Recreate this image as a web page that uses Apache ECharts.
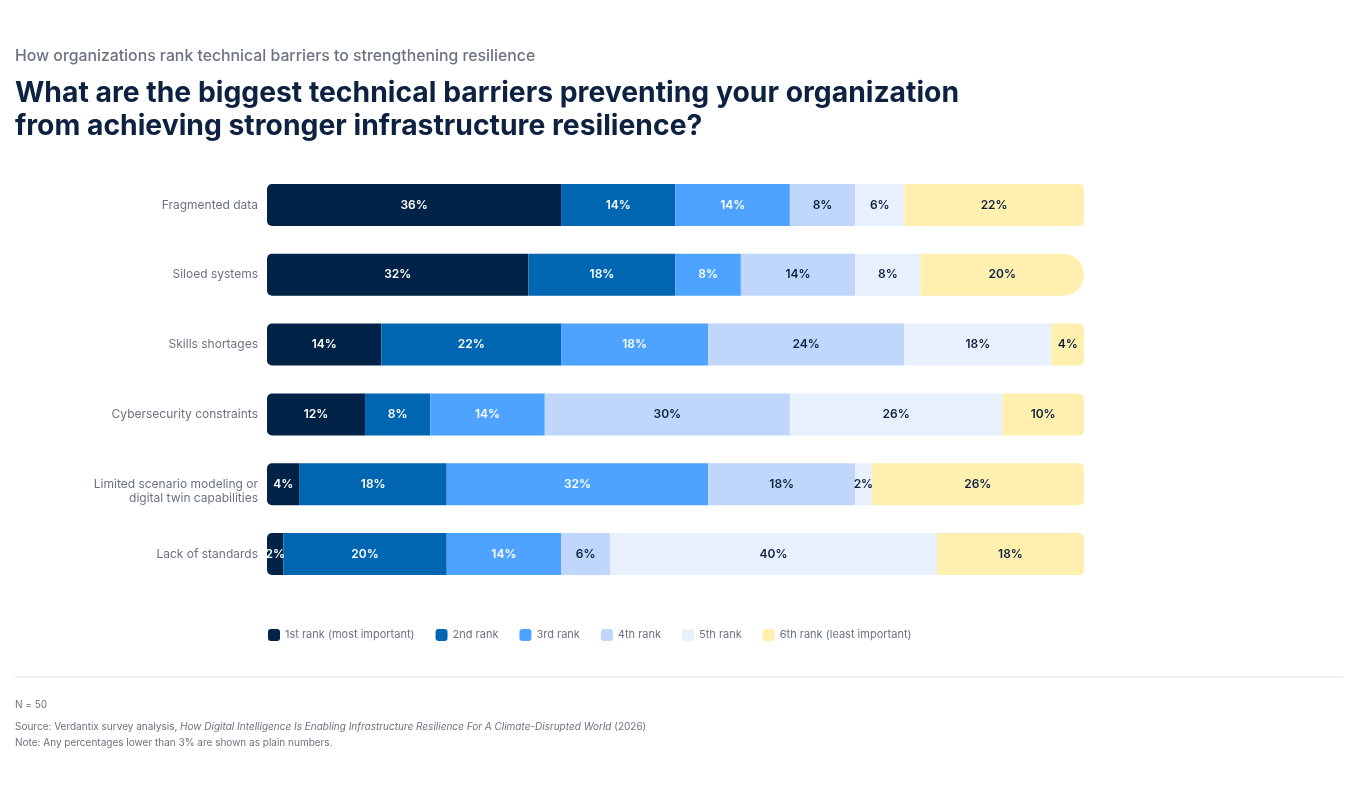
<!DOCTYPE html>
<html>
<head>
<meta charset="utf-8">
<script src="https://cdn.jsdelivr.net/npm/echarts@6/dist/echarts.min.js"></script>
<style>
html,body{margin:0;padding:0;background:#fff;}
#chart{width:1360px;height:800px;}
</style>
</head>
<body>
<div id="chart"></div>
<script>
const categories = [
  "Fragmented data",
  "Siloed systems",
  "Skills shortages",
  "Cybersecurity constraints",
  "Limited scenario modeling or\ndigital twin capabilities",
  "Lack of standards"
];
const seriesNames = [
  "1st rank (most important)",
  "2nd rank",
  "3rd rank",
  "4th rank",
  "5th rank",
  "6th rank (least important)"
];
const rank1 = [36, 32, 14, 12, 4, 2];
const rank2 = [14, 18, 22, 8, 18, 20];
const rank3 = [14, 8, 18, 14, 32, 14];
const rank4 = [8, 14, 24, 30, 18, 6];
const rank5 = [6, 8, 18, 26, 2, 40];
const rank6 = [22, 20, 4, 10, 26, 18];
const values = [rank1, rank2, rank3, rank4, rank5, rank6];
const colors = ["#002347", "#0066b2", "#4da3ff", "#c0d6fb", "#e8f0fd", "#fff0b0"];
const labelColors = ["#ffffff", "#ffffff", "#ffffff", "#0d2240", "#0d2240", "#0d2240"];

const chart = echarts.init(document.getElementById('chart'), null, {renderer: 'canvas'});

const series = values.map((arr, si) => ({
  name: seriesNames[si],
  type: 'bar',
  stack: 'total',
  barWidth: 42,
  itemStyle: { color: colors[si] },
  label: {
    show: true,
    position: 'inside',
    formatter: p => p.value + '%',
    color: labelColors[si],
    fontFamily: 'Inter',
    fontWeight: 600,
    fontSize: 12
  },
  emphasis: { disabled: true },
  data: arr.map((v, ci) => {
    let r = 0;
    if (si === 0) r = [5, 0, 0, 5];
    if (si === values.length - 1) r = (ci === 1) ? [0, 21, 21, 0] : [0, 5, 5, 0];
    return { value: v, itemStyle: { borderRadius: r } };
  })
}));

chart.setOption({
  animation: false,
  backgroundColor: '#ffffff',
  textStyle: { fontFamily: 'Inter' },
  title: [
    {
      text: 'How organizations rank technical barriers to strengthening resilience',
      left: 10, top: 43,
      textStyle: { fontFamily: 'Inter', fontSize: 15.8, fontWeight: 500, color: '#6b7280' }
    },
    {
      text: 'What are the biggest technical barriers preventing your organization\nfrom achieving stronger infrastructure resilience?',
      left: 10, top: 72,
      textStyle: { fontFamily: 'Inter', fontSize: 28.3, fontWeight: 700, color: '#0d2240', lineHeight: 33 }
    }
  ],
  grid: { left: 267, right: 276, top: 170, bottom: 211, containLabel: false },
  xAxis: {
    type: 'value', min: 0, max: 100,
    show: false
  },
  yAxis: {
    type: 'category',
    data: categories,
    inverse: true,
    axisLine: { show: false },
    axisTick: { show: false },
    splitLine: { show: false },
    axisLabel: {
      color: '#6b7280', fontFamily: 'Inter', fontSize: 12, margin: 9, lineHeight: 17, align: 'right',
      formatter: v => {
        const parts = v.split('\n');
        if (parts.length < 2) return v;
        return '{f|' + parts[0] + '}\n{n|' + parts.slice(1).join('\n') + '}';
      },
      rich: {
        f: { color: '#6b7280', fontFamily: 'Inter', fontSize: 12, lineHeight: 29, verticalAlign: 'bottom' },
        n: { color: '#6b7280', fontFamily: 'Inter', fontSize: 12, lineHeight: 17 }
      }
    }
  },
  legend: {
    left: 263, top: 624,
    icon: 'roundRect',
    itemWidth: 12, itemHeight: 12,
    itemGap: 21,
    textStyle: { color: '#6b7280', fontFamily: 'Inter', fontSize: 11 },
    data: seriesNames
  },
  graphic: [
    { type: 'line', shape: { x1: 15, y1: 677, x2: 1343, y2: 677 }, style: { stroke: '#dcdfe4', lineWidth: 1 } },
    { type: 'text', left: 15, top: 700, style: { text: 'N = 50', fill: '#6b7280', font: '10px Inter' } },
    { type: 'text', left: 15, top: 722, style: {
        text: '{a|Source: Verdantix survey analysis, }{i|How Digital Intelligence Is Enabling Infrastructure Resilience For A Climate-Disrupted World}{a| (2026)}',
        rich: {
          a: { fill: '#6b7280', font: '10px Inter' },
          i: { fill: '#6b7280', font: 'italic 10px Inter' }
        }
    } },
    { type: 'text', left: 15, top: 738, style: { text: 'Note: Any percentages lower than 3% are shown as plain numbers.', fill: '#6b7280', font: '10px Inter' } }
  ],
  series: series
});
</script>
</body>
</html>
